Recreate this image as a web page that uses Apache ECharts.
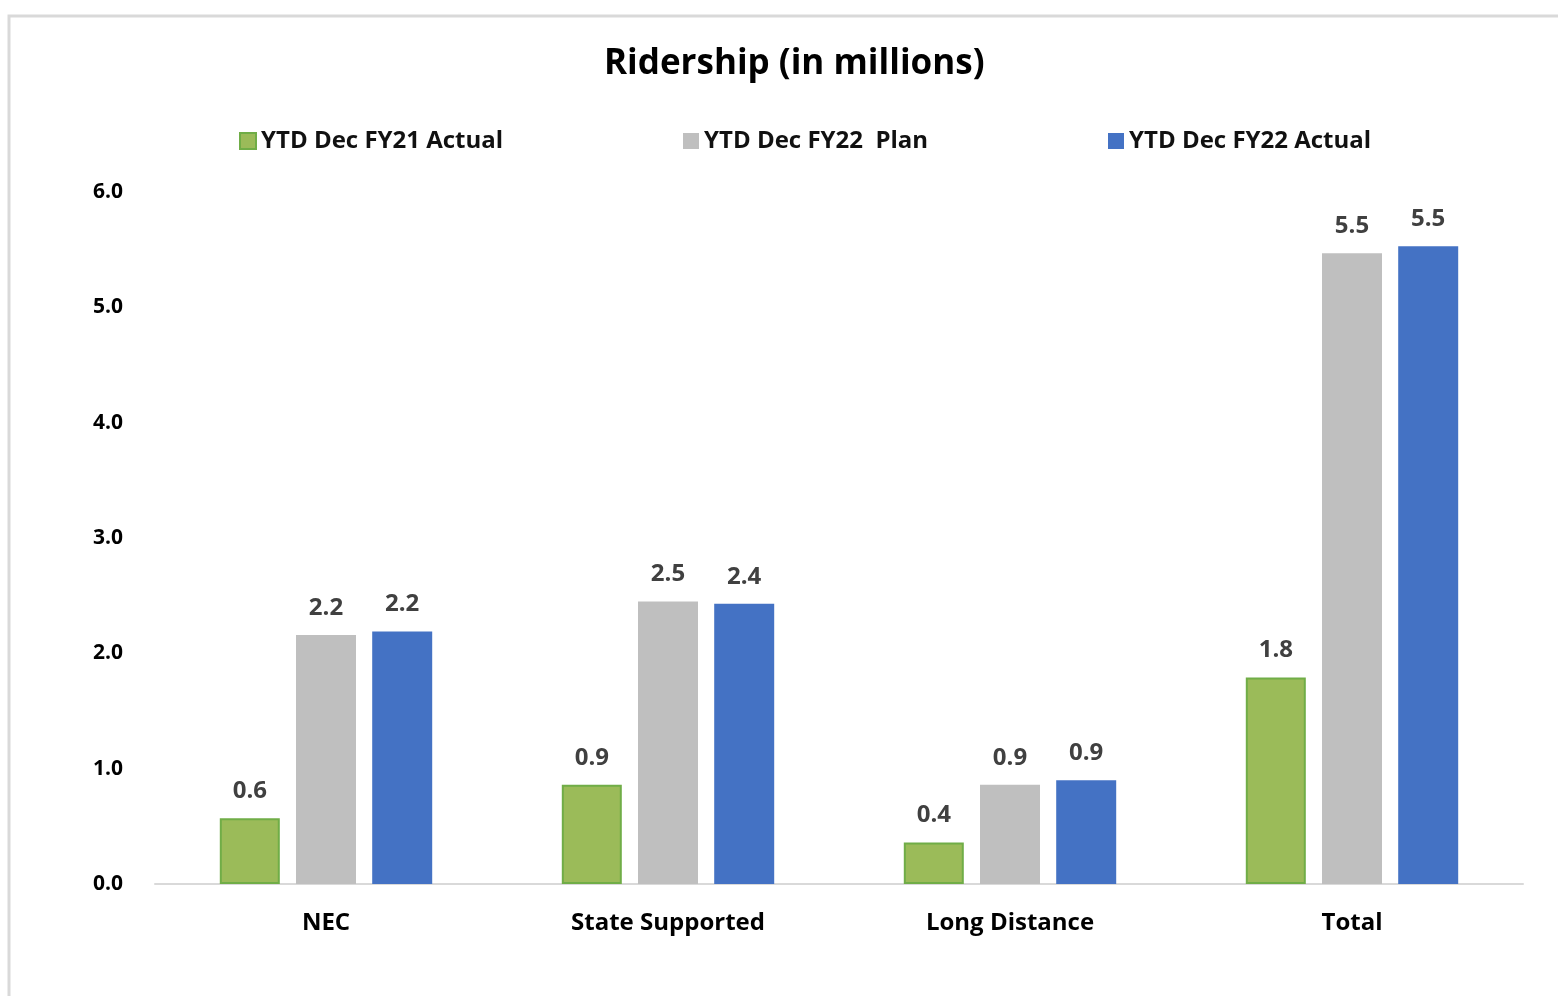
<!DOCTYPE html>
<html>
<head>
<meta charset="utf-8">
<script src="https://cdn.jsdelivr.net/npm/echarts@6/dist/echarts.min.js"></script>
<style>
html,body{margin:0;padding:0;background:#fff;}
#chart{width:1558px;height:996px;}
</style>
</head>
<body>
<div id="chart"></div>
<script>
const categories = ['NEC', 'State Supported', 'Long Distance', 'Total'];
const seriesNames = ['YTD Dec FY21 Actual', 'YTD Dec FY22  Plan', 'YTD Dec FY22 Actual'];
const fy21Actual = [0.57, 0.86, 0.36, 1.79];
const fy22Plan = [2.16, 2.45, 0.86, 5.47];
const fy22Actual = [2.19, 2.43, 0.90, 5.53];
const yTicks = [0, 1, 2, 3, 4, 5, 6];

const FONT = '"Open Sans", "Noto Sans", sans-serif';
const chart = echarts.init(document.getElementById('chart'), null, {renderer: 'canvas'});

const labelCfg = {
  show: true, position: 'top', distance: 15,
  color: '#404040', fontSize: 24, fontWeight: 'bold', fontFamily: FONT,
  formatter: p => p.value.toFixed(1)
};

function legendAt(name, left) {
  return {
    data: [name], left: left, top: 124, itemWidth: 16, itemHeight: 16,
    icon: 'rect',
    textStyle: {fontSize: 24, fontWeight: 'bold', color: '#111', fontFamily: FONT}
  };
}

chart.setOption({
  animation: false,
  backgroundColor: '#fff',
  title: {
    text: 'Ridership (in millions)', left: 599, top: 42,
    textStyle: {fontSize: 35, fontWeight: 'bold', color: '#000', fontFamily: FONT}
  },
  graphic: [{
    type: 'rect', shape: {x: 9, y: 16, width: 1600, height: 1100},
    style: {fill: 'none', stroke: '#d9d9d9', lineWidth: 3}, silent: true
  }],
  legend: [
    legendAt(seriesNames[0], 234),
    legendAt(seriesNames[1], 678),
    legendAt(seriesNames[2], 1103)
  ],
  grid: {left: 155, right: 35, top: 192, bottom: 112, containLabel: false},
  xAxis: {
    type: 'category', data: categories,
    axisLine: {lineStyle: {color: '#d9d9d9', width: 2}},
    axisTick: {show: false},
    axisLabel: {margin: 27, fontSize: 24, fontWeight: 'bold', color: '#000', fontFamily: FONT}
  },
  yAxis: {
    type: 'value', min: yTicks[0], max: yTicks[yTicks.length - 1], interval: 1,
    splitLine: {show: false},
    axisLine: {show: false}, axisTick: {show: false},
    axisLabel: {margin: 32, fontSize: 21, fontWeight: 'bold', color: '#000', fontFamily: FONT,
      formatter: v => v.toFixed(1)}
  },
  series: [
    {name: seriesNames[0], type: 'bar', data: fy21Actual, barWidth: 60, barGap: '27%',
      itemStyle: {color: '#9BBB59', borderColor: '#70AD47', borderWidth: 2}, label: labelCfg},
    {name: seriesNames[1], type: 'bar', data: fy22Plan, barWidth: 60, barGap: '27%',
      itemStyle: {color: '#BFBFBF'}, label: labelCfg},
    {name: seriesNames[2], type: 'bar', data: fy22Actual, barWidth: 60, barGap: '27%',
      itemStyle: {color: '#4472C4'}, label: labelCfg}
  ]
});
</script>
</body>
</html>
